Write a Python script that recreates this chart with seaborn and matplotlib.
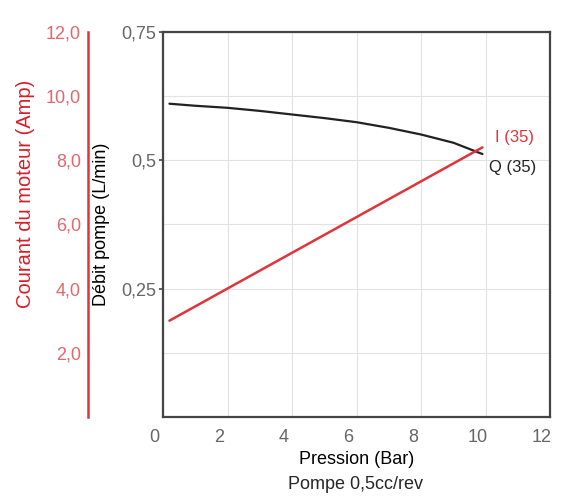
import matplotlib
matplotlib.use("Agg")
import matplotlib.pyplot as plt
import matplotlib.transforms as mtransforms
import seaborn as sns
import pandas as pd

# ---- data ----
pressure_q = [0.2, 1, 2, 3, 4, 5, 6, 7, 8, 9, 9.9]
flow_q = [0.610, 0.606, 0.602, 0.596, 0.589, 0.582, 0.574, 0.563, 0.550, 0.534, 0.512]
pressure_i = [0.2, 9.9]
current_i = [3.0, 8.4]
x_ticks = [0, 2, 4, 6, 8, 10, 12]
flow_ticks = [0.25, 0.5, 0.75]
flow_tick_labels = ["0,25", "0,5", "0,75"]
amp_ticks = [2, 4, 6, 8, 10, 12]
amp_tick_labels = ["2,0", "4,0", "6,0", "8,0", "10,0", "12,0"]
label_q = "Q (35)"
label_i = "I (35)"

sns.set_style("white")
plt.rcParams["font.family"] = ["Liberation Sans", "DejaVu Sans"]

RED = "#e0343c"
RED_LABEL = "#d81e26"
RED_TICK = "#e0676d"
GRAY = "#666666"
SPINE = "#444444"

fig = plt.figure(figsize=(5.62, 4.97), dpi=100)
ax = fig.add_axes([0.290, 0.161, 0.689, 0.775])

df_q = pd.DataFrame({"p": pressure_q, "q": flow_q})
df_i = pd.DataFrame({"p": pressure_i, "i": current_i})

sns.lineplot(data=df_q, x="p", y="q", ax=ax, color="#222222", linewidth=1.6)
ax.set_xlim(0, 12)
ax.set_ylim(0, 0.75)
ax.set_xticks(x_ticks)
ax.set_xticklabels([str(t) for t in x_ticks])
ax.set_yticks(flow_ticks)
ax.set_yticklabels(flow_tick_labels)
ax.set_yticks([0.125, 0.375, 0.625], minor=True)
ax.grid(True, which="both", color="#e2e2e2", linewidth=0.8)
ax.tick_params(axis="x", length=0, pad=9, labelsize=13, labelcolor=GRAY)
ax.tick_params(axis="y", which="major", length=3, width=1.2, color=SPINE, pad=2,
               labelsize=13, labelcolor=GRAY)
ax.tick_params(axis="y", which="minor", length=0)
for s in ax.spines.values():
    s.set_visible(True)
    s.set_color(SPINE)
    s.set_linewidth(1.6)

shift = mtransforms.ScaledTranslation(-6 / 72, 0, fig.dpi_scale_trans)
for lbl in ax.get_xticklabels():
    lbl.set_transform(lbl.get_transform() + shift)

ax.set_xlabel("Pression (Bar)", fontsize=13, color="black", labelpad=3)
ax.set_ylabel("Débit pompe (L/min)", fontsize=13, color="black")
ax.yaxis.set_label_coords(-0.137, 0.5)
fig.text(0.632, 0.026, "Pompe 0,5cc/rev", fontsize=13, ha="center", va="center")

# ---- current axis ----
ax2 = ax.twinx()
sns.lineplot(data=df_i, x="p", y="i", ax=ax2, color=RED, linewidth=1.8)
ax2.set_ylim(0, 12)
ax2.set_xlim(0, 12)
ax2.yaxis.set_ticks_position("left")
ax2.yaxis.set_label_position("left")
ax2.spines["left"].set_position(("outward", 54))
for k in ["right", "top", "bottom"]:
    ax2.spines[k].set_visible(False)
ax2.spines["left"].set_color(RED)
ax2.spines["left"].set_linewidth(1.8)
ax2.set_yticks(amp_ticks)
ax2.set_yticklabels(amp_tick_labels)
ax2.tick_params(axis="y", length=0, pad=5, labelsize=13, labelcolor=RED_TICK)
ax2.set_ylabel("Courant du moteur (Amp)", fontsize=14.5, color=RED_LABEL)
ax2.yaxis.set_label_coords(-0.33, 0.58)
ax2.grid(False)

ax2.text(pressure_i[-1] + 0.4, current_i[-1] + 0.3, label_i, color=RED,
         fontsize=12, ha="left", va="center")
ax.text(pressure_q[-1] + 0.2, flow_q[-1] - 0.027, label_q, color="#222222",
        fontsize=12, ha="left", va="center")

fig.savefig("out.png", dpi=100)
